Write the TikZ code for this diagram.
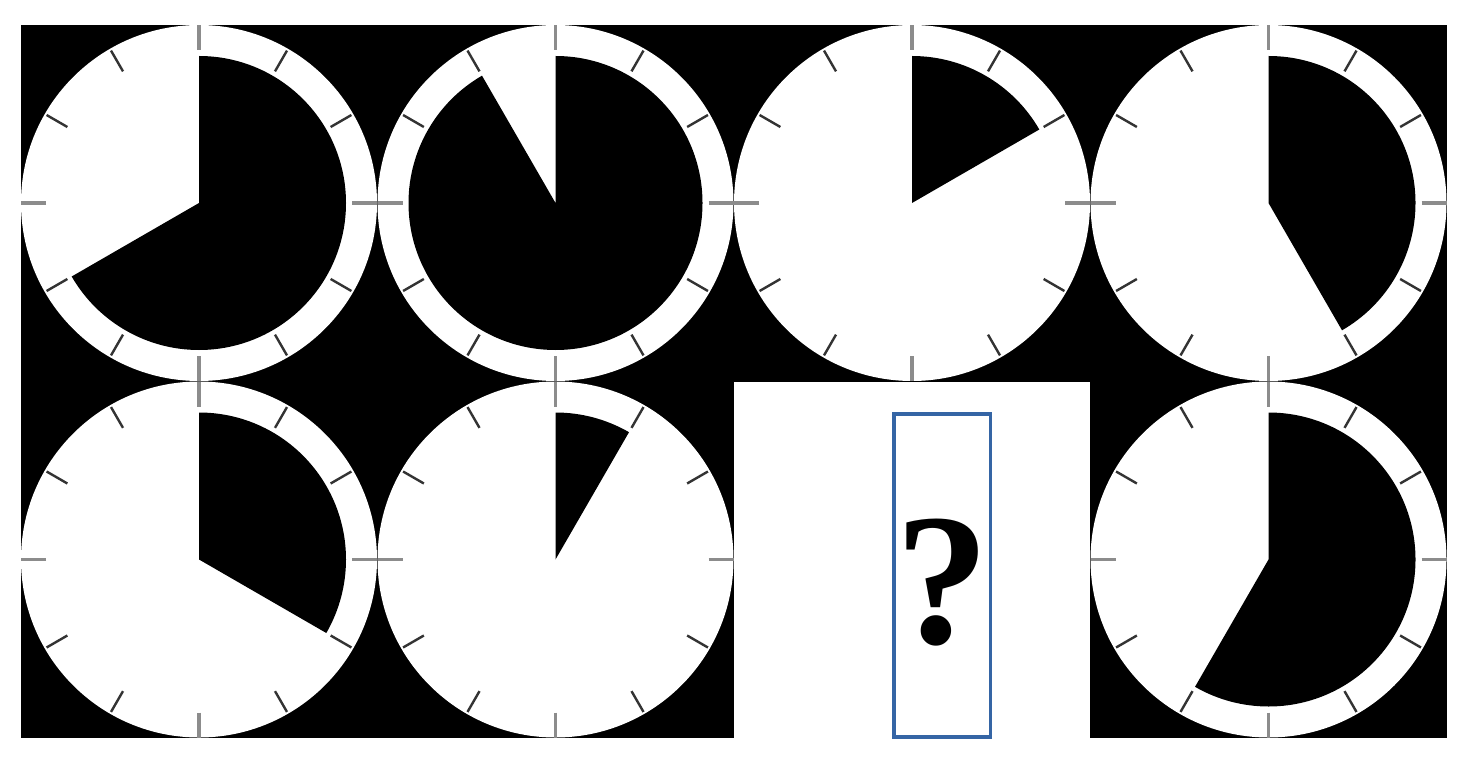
\documentclass[tikz,border=0pt]{standalone}
\usepackage{fontspec}
\newfontfamily\qfont{Liberation Serif}
\definecolor{boxblue}{HTML}{3565A5}
\definecolor{majorgray}{HTML}{8C8C8C}
\definecolor{minorgray}{HTML}{333333}
\tikzset{
  majortick/.style={draw=majorgray, line width=1.9pt},
  minortick/.style={draw=minorgray, line width=1.2pt},
  qbox/.style={draw=boxblue, line width=1.7pt},
}
\newcommand\drawclock[3]{%
  \begin{scope}[shift={(#1,#2)}]
    \fill[white] (0,0) circle[radius=178];
    \fill[black] (0,0) -- (90:147) arc[start angle=90, end angle=#3, radius=147] -- cycle;
    \foreach \a in {0,90,180,270} \draw[majortick] (\a:153) -- (\a:178);
    \foreach \a in {30,60,120,150,210,240,300,330} \draw[minortick] (\a:152) -- (\a:176);
  \end{scope}%
}
\begin{document}
\begin{tikzpicture}[x=0.5pt,y=0.5pt]
  \useasboundingbox (0,0) rectangle (1465,756);
  \fill[white] (0,0) rectangle (1465,756);
  \fill[black] (21,18) rectangle (1447,731);
  % top row
  \drawclock{199}{553}{-150}
  \drawclock{555.5}{553}{-240}
  \drawclock{912}{553}{30}
  \drawclock{1268.5}{553}{-60}
  % bottom row
  \drawclock{199}{196.5}{-30}
  \drawclock{555.5}{196.5}{60}
  \drawclock{1268.5}{196.5}{-120}
  % missing panel
  \fill[white] (734,18) rectangle (1090,374);
  \draw[qbox] (893.8,18.9) rectangle (990.2,342.2);
  \node[anchor=base, inner sep=0pt, font=\qfont\bfseries\fontsize{94}{94}\selectfont] (q) at (942,113) {?};
\end{tikzpicture}
\end{document}
